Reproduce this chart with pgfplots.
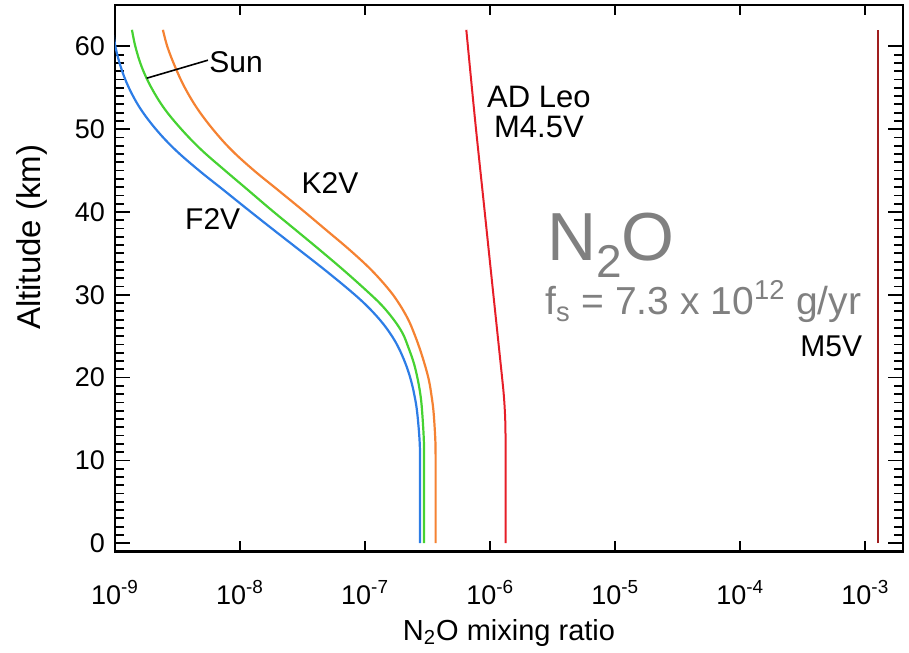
\documentclass[border=0pt]{standalone}
\usepackage{fontspec}
\setmainfont{Liberation Sans}
\usepackage{pgfplots}
\pgfplotsset{compat=1.18}
\definecolor{cF}{RGB}{45,125,230}
\definecolor{cS}{RGB}{70,210,50}
\definecolor{cK}{RGB}{245,130,50}
\definecolor{cA}{RGB}{230,30,40}
\definecolor{cM}{RGB}{160,30,30}
\definecolor{txtgray}{RGB}{128,128,128}
\begin{document}
\begin{tikzpicture}
\begin{axis}[
  scale only axis, width=394pt, height=273.25pt,
  xmode=log, xmin=1e-9, xmax=2e-3, ymin=-1, ymax=65,
  xtick={1e-9,1e-8,1e-7,1e-6,1e-5,1e-4,1e-3},
  xticklabels={10\textsuperscript{-9},10\textsuperscript{-8},10\textsuperscript{-7},10\textsuperscript{-6},10\textsuperscript{-5},10\textsuperscript{-4},10\textsuperscript{-3}},
  xminorticks=false,
  ytick={0,10,...,60}, minor y tick num=9,
  major tick length=7.5pt, minor tick length=4.5pt,
  xtick style={/pgfplots/major tick length=5pt},
  axis line style={line width=1.3pt},
  tick style={black, line width=0.9pt},
  tick label style={font=\fontsize{13.5}{15}\selectfont},
  /pgf/number format/assume math mode=true,
  xlabel={N\textsubscript{2}O mixing ratio},
  ylabel={Altitude (km)},
  xlabel style={font=\fontsize{14.5}{16}\selectfont, at={(rel axis cs:0.5,-0.149)}, anchor=center},
  ylabel style={font=\fontsize{16.5}{18}\selectfont, at={(rel axis cs:-0.105,0.575)}, anchor=center},
  xticklabel style={yshift=-11pt},
  yticklabel style={xshift=-1.5pt},
]
% F2V
\addplot[cF, line width=1.1pt, smooth, tension=0.6] coordinates {
(0.964e-9,62.0) (1.009e-9,59.94) (1.112e-9,57.52) (1.282e-9,55.11) (1.592e-9,52.51)
(2.145e-9,49.92) (3.04e-9,47.50) (4.64e-9,45.08) (7.35e-9,42.67) (1.164e-8,40.25)
(1.854e-8,37.84) (2.976e-8,35.42) (4.756e-8,33.01) (7.46e-8,30.59) (1.015e-7,28.78)
(1.314e-7,26.97) (1.586e-7,25.34) (1.838e-7,23.71) (2.102e-7,21.71) (2.322e-7,19.72)
(2.489e-7,17.73) (2.611e-7,15.74) (2.724e-7,12.48) (2.749e-7,10.06) (2.749e-7,5) (2.749e-7,0)};
% Sun
\addplot[cS, line width=1.1pt, smooth, tension=0.6] coordinates {
(1.367e-9,62.0) (1.458e-9,59.94) (1.636e-9,57.52) (1.939e-9,55.11) (2.476e-9,52.51)
(3.43e-9,49.92) (4.91e-9,47.50) (7.49e-9,45.08) (1.154e-8,42.67) (1.778e-8,40.25)
(2.778e-8,37.84) (4.338e-8,35.42) (6.686e-8,33.01) (1.011e-7,30.59) (1.350e-7,28.78)
(1.699e-7,26.97) (1.997e-7,25.34) (2.21e-7,23.71) (2.457e-7,21.71) (2.640e-7,19.72)
(2.780e-7,17.73) (2.863e-7,15.74) (2.948e-7,12.48) (2.959e-7,10.06) (2.959e-7,5) (2.959e-7,0)};
% K2V
\addplot[cK, line width=1.1pt, smooth, tension=0.6] coordinates {
(2.417e-9,62.0) (2.626e-9,59.94) (3.028e-9,57.52) (3.59e-9,55.11) (4.542e-9,52.51)
(6.118e-9,49.92) (8.52e-9,47.50) (1.277e-8,45.08) (2.004e-8,42.67) (3.145e-8,40.25)
(4.867e-8,37.84) (7.53e-8,35.42) (1.119e-7,33.01) (1.558e-7,30.59) (1.897e-7,28.78)
(2.219e-7,26.97) (2.466e-7,25.34) (2.704e-7,23.71) (2.981e-7,21.71) (3.233e-7,19.72)
(3.403e-7,17.73) (3.531e-7,15.74) (3.643e-7,12.48) (3.663e-7,10.06) (3.663e-7,5) (3.663e-7,0)};
% AD Leo
\addplot[cA, line width=1pt, smooth, tension=0.6] coordinates {
(6.446e-7,62) (7.57e-7,51.15) (8.89e-7,41.1) (1.026e-6,32.1) (1.136e-6,25.76)
(1.251e-6,19.72) (1.285e-6,17.9) (1.309e-6,16.1) (1.323e-6,14.29) (1.327e-6,12.48)
(1.327e-6,10.06) (1.327e-6,5) (1.327e-6,0)};
% M5V
\addplot[cM, line width=1pt] coordinates {(1.26e-3,0) (1.26e-3,62)};
\draw[line width=0.8pt] (rel axis cs:0.0402,0.866) -- (rel axis cs:0.118,0.899);
\node[font=\fontsize{15}{17}\selectfont, inner sep=0pt] at (rel axis cs:0.1536,0.896) {Sun};
\node[font=\fontsize{15}{17}\selectfont, inner sep=0pt] at (rel axis cs:0.2728,0.674) {K2V};
\node[font=\fontsize{15}{17}\selectfont, inner sep=0pt] at (rel axis cs:0.124,0.608) {F2V};
\node[font=\fontsize{15.5}{17}\selectfont, inner sep=0pt] at (rel axis cs:0.538,0.831) {AD Leo};
\node[font=\fontsize{15.5}{17}\selectfont, inner sep=0pt] at (rel axis cs:0.538,0.777) {M4.5V};
\node[font=\fontsize{15}{17}\selectfont, inner sep=0pt, anchor=base west] at (rel axis cs:0.8693,0.3559) {M5V};
\node[anchor=base west, font=\fontsize{34}{36}\selectfont, text=txtgray, inner sep=0pt] at (rel axis cs:0.5479,0.533) {N\raisebox{-0.25em}{\fontsize{23}{23}\selectfont 2}O};
\node[anchor=base west, font=\fontsize{19.5}{21}\selectfont, text=txtgray, inner sep=0pt] at (rel axis cs:0.5457,0.433) {f\textsubscript{s} = 7.3 x 10\textsuperscript{12} g/yr};
\end{axis}
\pgfresetboundingbox
\path (current axis.south west) +(-57.5pt,-50.75pt) coordinate (bl);
\path (current axis.north east) +(3pt,2.5pt) coordinate (tr);
\path (bl) rectangle (tr);
\end{tikzpicture}
\end{document}
